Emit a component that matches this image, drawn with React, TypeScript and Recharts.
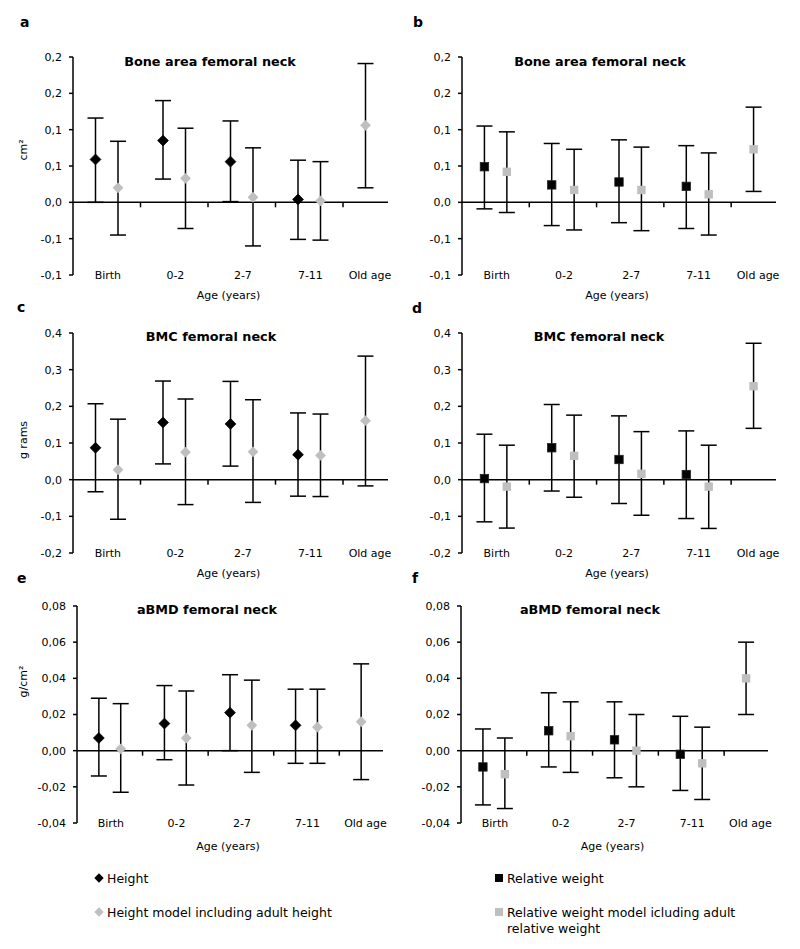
import React from 'react';
import { ScatterChart, Scatter, XAxis, YAxis, ErrorBar, ReferenceLine, Legend } from 'recharts';

const FONT = '"DejaVu Sans", "Liberation Sans", sans-serif';
const BLACK = '#000000';
const GRAY = '#BFBFBF';
const LINE_W = 1.5;

const categories = ['Birth', '0-2', '2-7', '7-11', 'Old age'];

const areaTicks = [-0.1, -0.05, 0, 0.05, 0.1, 0.15, 0.2];
const bmcTicks = [-0.2, -0.1, 0, 0.1, 0.2, 0.3, 0.4];
const abmdTicks = [-0.04, -0.02, 0, 0.02, 0.04, 0.06, 0.08];

const heightNames = ['Height', 'Height model including adult height'];
const weightNames = ['Relative weight', 'Relative weight model icluding adult relative weight'];

// a: Bone area femoral neck (height)
const aHeight = [0.059, 0.085, 0.056, 0.004, null];
const aHeightLow = [0.0, 0.032, 0.001, -0.051, null];
const aHeightHigh = [0.116, 0.14, 0.112, 0.058, null];
const aAdult = [0.02, 0.033, 0.007, 0.002, 0.106];
const aAdultLow = [-0.045, -0.036, -0.06, -0.052, 0.02];
const aAdultHigh = [0.084, 0.102, 0.075, 0.056, 0.191];

// b: Bone area femoral neck (relative weight)
const bWeight = [0.049, 0.024, 0.028, 0.022, null];
const bWeightLow = [-0.009, -0.032, -0.028, -0.036, null];
const bWeightHigh = [0.105, 0.081, 0.086, 0.078, null];
const bAdult = [0.042, 0.017, 0.017, 0.011, 0.073];
const bAdultLow = [-0.014, -0.038, -0.039, -0.045, 0.015];
const bAdultHigh = [0.097, 0.073, 0.076, 0.068, 0.131];

// c: BMC femoral neck (height)
const cHeight = [0.087, 0.156, 0.152, 0.068, null];
const cHeightLow = [-0.033, 0.043, 0.037, -0.045, null];
const cHeightHigh = [0.207, 0.269, 0.268, 0.182, null];
const cAdult = [0.027, 0.075, 0.076, 0.066, 0.161];
const cAdultLow = [-0.108, -0.068, -0.062, -0.046, -0.017];
const cAdultHigh = [0.165, 0.22, 0.218, 0.179, 0.337];

// d: BMC femoral neck (relative weight)
const dWeight = [0.003, 0.087, 0.055, 0.014, null];
const dWeightLow = [-0.115, -0.031, -0.065, -0.106, null];
const dWeightHigh = [0.124, 0.205, 0.174, 0.133, null];
const dAdult = [-0.019, 0.065, 0.016, -0.019, 0.255];
const dAdultLow = [-0.132, -0.048, -0.097, -0.133, 0.14];
const dAdultHigh = [0.094, 0.176, 0.131, 0.094, 0.372];

// e: aBMD femoral neck (height)
const eHeight = [0.007, 0.015, 0.021, 0.014, null];
const eHeightLow = [-0.014, -0.005, 0.0, -0.007, null];
const eHeightHigh = [0.029, 0.036, 0.042, 0.034, null];
const eAdult = [0.001, 0.007, 0.014, 0.013, 0.016];
const eAdultLow = [-0.023, -0.019, -0.012, -0.007, -0.016];
const eAdultHigh = [0.026, 0.033, 0.039, 0.034, 0.048];

// f: aBMD femoral neck (relative weight)
const fWeight = [-0.009, 0.011, 0.006, -0.002, null];
const fWeightLow = [-0.03, -0.009, -0.015, -0.022, null];
const fWeightHigh = [0.012, 0.032, 0.027, 0.019, null];
const fAdult = [-0.013, 0.008, 0.0, -0.007, 0.04];
const fAdultLow = [-0.032, -0.012, -0.02, -0.027, 0.02];
const fAdultHigh = [0.007, 0.027, 0.02, 0.013, 0.06];

// ---- layout helpers (derived from category count) ----
const SLOTS = 3;
const X_MAX = SLOTS * categories.length - 1;
const labelSlots = categories.map((_, i) => Math.min(SLOTS * i + 1.55, X_MAX - 0.8));
const boundaries = categories.slice(1).map((_, i) => SLOTS * (i + 1));

type Pt = { x: number; y: number; err: [number, number] };

function toPoints(
  vals: (number | null)[],
  lows: (number | null)[],
  highs: (number | null)[],
  slotOf: (i: number) => number
): Pt[] {
  const out: Pt[] = [];
  vals.forEach((v, i) => {
    if (v == null) return;
    const lo = lows[i] as number;
    const hi = highs[i] as number;
    out.push({ x: SLOTS * i + slotOf(i), y: v, err: [v - lo, hi - v] });
  });
  return out;
}

const makeFmt = (dec: number) => (v: number) => {
  const f = Math.pow(10, dec);
  const r = (Math.sign(v) * Math.round(Math.abs(v) * f + 1e-9)) / f;
  return (r === 0 ? 0 : r).toFixed(dec).replace('.', ',');
};

const diamondShape = (color: string) => (p: any) => {
  const { cx, cy } = p;
  const s = 5.4;
  return (
    <polygon
      points={`${cx},${cy - s} ${cx + s},${cy} ${cx},${cy + s} ${cx - s},${cy}`}
      fill={color}
      stroke={color === BLACK ? '#000' : 'none'}
      strokeWidth={0.8}
    />
  );
};

const squareShape = (color: string) => (p: any) => {
  const { cx, cy } = p;
  const s = 4.2;
  return <rect x={cx - s} y={cy - s} width={2 * s} height={2 * s} fill={color} stroke={color === BLACK ? '#222' : 'none'} strokeWidth={0.8} />;
};

const CategoryTick = (p: any) => {
  const { x, y, payload } = p;
  const idx = Math.round((payload.value - 1.55) / SLOTS);
  return (
    <text x={x} y={y + 4} textAnchor="middle" fontSize={11} fontFamily={FONT} fill="#000">
      {categories[Math.max(0, Math.min(categories.length - 1, idx))]}
    </text>
  );
};

const ZeroLine = (p: any) => {
  const { x1, x2, y1 } = p;
  const span = x2 - x1;
  return (
    <g>
      <line x1={x1} y1={y1} x2={x2} y2={y1} stroke="#000" strokeWidth={LINE_W} />
      {boundaries.map((k) => {
        const xx = x1 + (span * k) / X_MAX;
        return <line key={k} x1={xx} y1={y1} x2={xx} y2={y1 + 5} stroke="#000" strokeWidth={LINE_W} />;
      })}
    </g>
  );
};

const LegendContent = (props: any) => {
  const payload = props.payload || [];
  return (
    <div style={{ fontFamily: FONT, fontSize: 12.5, color: '#000' }}>
      {payload.map((e: any, i: number) => {
        const color = e.color || (i === 0 ? BLACK : GRAY);
        return (
          <div key={i} style={{ display: 'flex', alignItems: 'flex-start', marginBottom: 18 }}>
            <svg width={10} height={16} style={{ flex: 'none', marginRight: 3 }}>
              {e.type === 'diamond' ? (
                <polygon points="5,2.3 9.7,7 5,11.7 0.3,7" fill={color} />
              ) : (
                <rect x={1} y={3} width={8} height={8} fill={color} />
              )}
            </svg>
            <span style={{ lineHeight: '16px', width: 240, display: 'block' }}>{e.value}</span>
          </div>
        );
      })}
    </div>
  );
};

type Cfg = {
  letter: string;
  title: string;
  yTitle?: string;
  yTitleShift?: number;
  ticks: number[];
  dec: number;
  marker: 'diamond' | 'square';
  names: string[];
  first: (number | null)[];
  firstLow: (number | null)[];
  firstHigh: (number | null)[];
  second: (number | null)[];
  secondLow: (number | null)[];
  secondHigh: (number | null)[];
  left: number;
  top: number;
  height: number;
  mt: number;
  mr: number;
  mb: number;
  yw: number;
  ageOffset: number;
  titleX: number;
  titleY: number;
  letterX: number;
  letterY: number;
  legend?: boolean;
};

const panels: Cfg[] = [
  {
    letter: 'a', title: 'Bone area femoral neck', yTitle: 'cm²', yTitleShift: -16, ticks: areaTicks, dec: 1, marker: 'diamond', names: heightNames,
    first: aHeight, firstLow: aHeightLow, firstHigh: aHeightHigh, second: aAdult, secondLow: aAdultLow, secondHigh: aAdultHigh,
    left: 0, top: 0, height: 310, mt: 57, mr: 12, mb: 0, yw: 73, ageOffset: 24, titleX: 210, titleY: 66, letterX: 20, letterY: 27,
  },
  {
    letter: 'b', title: 'Bone area femoral neck', ticks: areaTicks, dec: 1, marker: 'square', names: weightNames,
    first: bWeight, firstLow: bWeightLow, firstHigh: bWeightHigh, second: bAdult, secondLow: bAdultLow, secondHigh: bAdultHigh,
    left: 400, top: 0, height: 310, mt: 57, mr: 24, mb: 0, yw: 62, ageOffset: 24, titleX: 600, titleY: 66, letterX: 413, letterY: 27,
  },
  {
    letter: 'c', title: 'BMC femoral neck', yTitle: 'g rams', yTitleShift: -3, ticks: bmcTicks, dec: 1, marker: 'diamond', names: heightNames,
    first: cHeight, firstLow: cHeightLow, firstHigh: cHeightHigh, second: cAdult, secondLow: cAdultLow, secondHigh: cAdultHigh,
    left: 0, top: 290, height: 298, mt: 43, mr: 12, mb: 0, yw: 73, ageOffset: 24, titleX: 211, titleY: 341, letterX: 17, letterY: 312,
  },
  {
    letter: 'd', title: 'BMC femoral neck', ticks: bmcTicks, dec: 1, marker: 'square', names: weightNames,
    first: dWeight, firstLow: dWeightLow, firstHigh: dWeightHigh, second: dAdult, secondLow: dAdultLow, secondHigh: dAdultHigh,
    left: 400, top: 290, height: 298, mt: 43, mr: 24, mb: 0, yw: 62, ageOffset: 24, titleX: 599, titleY: 341, letterX: 412, letterY: 313,
  },
  {
    letter: 'e', title: 'aBMD femoral neck', yTitle: 'g/cm²', yTitleShift: -33, ticks: abmdTicks, dec: 2, marker: 'diamond', names: heightNames,
    first: eHeight, firstLow: eHeightLow, firstHigh: eHeightHigh, second: eAdult, secondLow: eAdultLow, secondHigh: eAdultHigh,
    left: 0, top: 580, height: 369, mt: 26, mr: 17, mb: 91, yw: 77, ageOffset: 27, titleX: 207, titleY: 614, letterX: 17, letterY: 583, legend: true,
  },
  {
    letter: 'f', title: 'aBMD femoral neck', ticks: abmdTicks, dec: 2, marker: 'square', names: weightNames,
    first: fWeight, firstLow: fWeightLow, firstHigh: fWeightHigh, second: fAdult, secondLow: fAdultLow, secondHigh: fAdultHigh,
    left: 400, top: 580, height: 369, mt: 26, mr: 32, mb: 91, yw: 61, ageOffset: 27, titleX: 590, titleY: 614, letterX: 412, letterY: 583, legend: true,
  },
];

function Panel({ cfg }: { cfg: Cfg }) {
  const firstPts = toPoints(cfg.first, cfg.firstLow, cfg.firstHigh, () => 1);
  const secondPts = toPoints(cfg.second, cfg.secondLow, cfg.secondHigh, (i) => (cfg.first[i] == null ? 1 : 2));
  const fmt = makeFmt(cfg.dec);
  const shapeOf = cfg.marker === 'diamond' ? diamondShape : squareShape;
  const yDomain = [cfg.ticks[0], cfg.ticks[cfg.ticks.length - 1]];

  const ageLabel = (p: any) => {
    const vb = p.viewBox || {};
    return (
      <text x={vb.x + vb.width / 2 - 2} y={vb.y + cfg.ageOffset} textAnchor="middle" fontSize={11} fontFamily={FONT} fill="#000">
        Age (years)
      </text>
    );
  };

  const yLabel = cfg.yTitle
    ? (p: any) => {
        const vb = p.viewBox || {};
        const cx = 27;
        const cy = vb.y + vb.height / 2 + (cfg.yTitleShift || 0);
        return (
          <text x={cx} y={cy} transform={`rotate(-90 ${cx} ${cy})`} textAnchor="middle" fontSize={11} fontFamily={FONT} fill="#000">
            {cfg.yTitle}
          </text>
        );
      }
    : undefined;

  return (
    <div style={{ position: 'absolute', left: cfg.left, top: cfg.top }}>
      <ScatterChart
        width={400}
        height={cfg.height}
        margin={{ top: cfg.mt, right: cfg.mr, bottom: cfg.mb, left: 0 }}
        style={{ fontFamily: FONT }}
      >
        <XAxis
          type="number"
          dataKey="x"
          domain={[0, X_MAX]}
          allowDataOverflow
          ticks={labelSlots}
          interval={0}
          axisLine={false}
          tickLine={false}
          tickSize={0}
          tickMargin={0}
          height={35}
          tick={<CategoryTick />}
          label={ageLabel}
        />
        <YAxis
          type="number"
          dataKey="y"
          domain={yDomain}
          allowDataOverflow
          ticks={cfg.ticks}
          interval={0}
          width={cfg.yw}
          tickFormatter={fmt}
          axisLine={{ stroke: '#000', strokeWidth: LINE_W }}
          tickLine={{ stroke: '#000', strokeWidth: LINE_W }}
          tickSize={4}
          tickMargin={7}
          tick={{ fill: '#000', fontSize: 11, fontFamily: FONT }}
          label={yLabel}
        />
        <ReferenceLine y={0} shape={ZeroLine} />
        <Scatter
          name={cfg.names[0]}
          data={firstPts}
          fill={BLACK}
          legendType={cfg.marker}
          shape={shapeOf(BLACK)}
          isAnimationActive={false}
        >
          <ErrorBar dataKey="err" direction="y" width={8} stroke="#000" strokeWidth={LINE_W} isAnimationActive={false} />
        </Scatter>
        <Scatter
          name={cfg.names[1]}
          data={secondPts}
          fill={GRAY}
          legendType={cfg.marker}
          shape={shapeOf(GRAY)}
          isAnimationActive={false}
        >
          <ErrorBar dataKey="err" direction="y" width={8} stroke="#000" strokeWidth={LINE_W} isAnimationActive={false} />
        </Scatter>
        {cfg.legend ? (
          <Legend
            layout="horizontal"
            verticalAlign="middle"
            align="center"
            content={<LegendContent />}
            wrapperStyle={{ position: 'absolute', left: 94, top: 291, width: 300, height: 'auto' }}
          />
        ) : null}
      </ScatterChart>
    </div>
  );
}

export default function App() {
  return (
    <div style={{ position: 'absolute', left: 0, top: 0, width: 800, height: 949, background: '#fff', fontFamily: FONT }}>
      {panels.map((p) => (
        <Panel key={p.letter} cfg={p} />
      ))}
      <svg width={800} height={949} style={{ position: 'absolute', left: 0, top: 0, pointerEvents: 'none' }}>
        {panels.map((p) => (
          <g key={p.letter}>
            <text x={p.letterX} y={p.letterY} fontSize={14} fontWeight="bold" fontFamily={FONT} fill="#000">
              {p.letter}
            </text>
            <text x={p.titleX} y={p.titleY} textAnchor="middle" fontSize={12.8} fontWeight="bold" fontFamily={FONT} fill="#000">
              {p.title}
            </text>
          </g>
        ))}
      </svg>
    </div>
  );
}
